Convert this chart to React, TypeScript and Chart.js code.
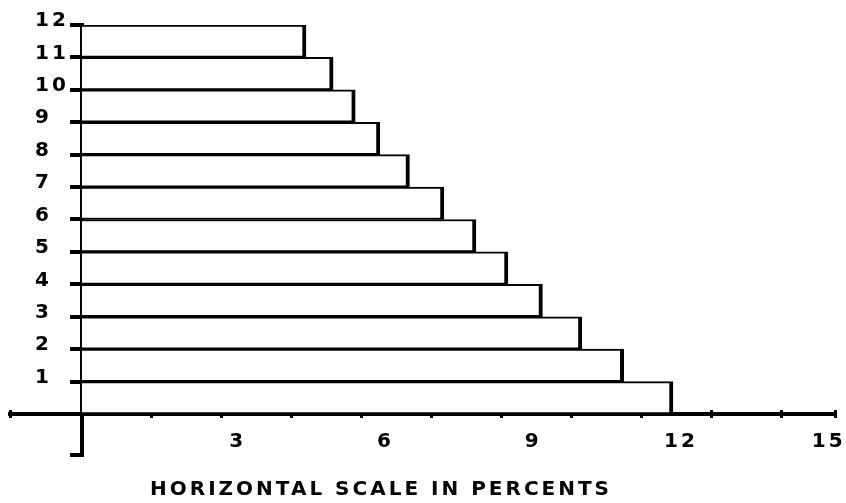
import React, { useEffect, useRef } from 'react';
import { Chart, registerables } from 'chart.js';

Chart.register(...registerables);

// Row labels (bottom to top) and bar lengths in percent
const rowLabels = ['1', '2', '3', '4', '5', '6', '7', '8', '9', '10', '11', '12'];
const rowValues = [12.0, 11.0, 10.15, 9.35, 8.65, 8.0, 7.35, 6.65, 6.05, 5.55, 5.1, 4.55];
// Horizontal scale labels
const xLabelValues = [3, 6, 9, 12, 15];
const axisTitle = 'HORIZONTAL SCALE IN PERCENTS';

const FONT_FAMILY = '"DejaVu Sans", sans-serif';

export default function App() {
  const ref = useRef<HTMLCanvasElement>(null);

  useEffect(() => {
    document.body.style.margin = '0';
    const spacingPlugin = {
      id: 'letterSpacing',
      beforeDraw(c: any) {
        (c.ctx as any).letterSpacing = '3px';
      },
    };
    const tickFont = { family: FONT_FAMILY, size: 20, weight: 'bold' as const };
    const chart = new Chart(ref.current!, {
      type: 'bar',
      data: {
        datasets: [
          {
            data: rowValues.map((v, i) => ({ x: v, y: i + 0.5 })),
            backgroundColor: '#ffffff',
            borderColor: '#000000',
            borderWidth: { top: 2, bottom: 2, left: 0, right: 4 },
            borderSkipped: false,
            barPercentage: 1,
            categoryPercentage: 1,
          },
        ],
      },
      options: {
        indexAxis: 'y',
        responsive: false,
        animation: false,
        layout: { padding: { left: 10, right: 11, top: 25, bottom: 48 } },
        plugins: { legend: { display: false }, tooltip: { enabled: false } },
        scales: {
          x: {
            type: 'linear',
            min: -1.46,
            max: 15.29,
            position: { y: 0 } as any,
            border: { display: true, color: '#000', width: 4 },
            grid: { display: false },
            ticks: {
              stepSize: 3,
              includeBounds: false,
              autoSkip: false,
              maxRotation: 0,
              padding: 8,
              labelOffset: 8,
              color: '#000',
              font: tickFont,
              callback: (v: any) => (xLabelValues.includes(Number(v)) ? String(v) : ''),
            },
          },
          x2: {
            type: 'linear',
            min: -1.46,
            max: 15.29,
            position: { y: 0.12 } as any,
            border: { display: false },
            grid: { drawOnChartArea: false, drawTicks: true, tickLength: 8, lineWidth: 3, color: '#000' },
            ticks: { stepSize: 1.42, display: false },
          },
          y: {
            type: 'linear',
            min: -1.265,
            max: 12,
            offset: false,
            position: { x: 0 } as any,
            border: { display: true, color: '#000', width: 4 },
            grid: {
              offset: false,
              drawOnChartArea: false,
              drawTicks: true,
              tickLength: 10,
              lineWidth: 4,
              color: (ctx: any) => {
                const v = ctx.tick ? ctx.tick.value : 0;
                return v >= 1 || v < -1.2 ? '#000' : 'rgba(0,0,0,0)';
              },
            },
            ticks: {
              stepSize: 1,
              autoSkip: false,
              color: '#000',
              font: tickFont,
              labelOffset: -4,
              callback: (v: any) => {
                const n = Number(v);
                if (!(Number.isInteger(n) && n >= 1 && n <= rowLabels.length)) return '';
                const label = rowLabels[n - 1];
                // keep labels left-aligned in a column away from the axis line
                return label.length < 2 ? label + '\u2007\u2002' : label + '\u2002';
              },
            },
          },
        },
      },
      plugins: [spacingPlugin],
    } as any);
    return () => chart.destroy();
  }, []);

  return (
    <div style={{ position: 'absolute', left: 0, top: 0, width: 846, height: 503, background: '#fff' }}>
      <canvas ref={ref} width={846} height={503} style={{ position: 'absolute', left: 0, top: 0 }} />
      <div
        style={{
          position: 'absolute',
          left: 150,
          top: 476,
          font: `bold 20px ${FONT_FAMILY}`,
          letterSpacing: '3px',
          whiteSpace: 'pre',
          color: '#000',
        }}
      >
        {axisTitle}
      </div>
    </div>
  );
}
